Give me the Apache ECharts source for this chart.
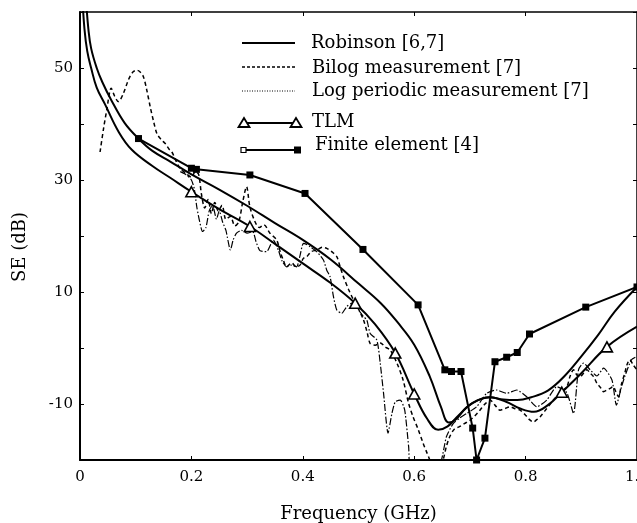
<!DOCTYPE html>
<html><head><meta charset="utf-8">
<script src="https://cdn.jsdelivr.net/npm/echarts/dist/echarts.min.js"></script>
<style>html,body{margin:0;padding:0;background:#fff}#c{width:637px;height:523px}</style>
</head><body><div id="c"></div><script>
// ---- data (frequency in GHz, SE in dB) ----
const xTickLabels = ['0', '0.2', '0.4', '0.6', '0.8', '1.0'];
const yTickLabels = [50, 30, 10, -10];
const legendNames = ['Robinson [6,7]', 'Bilog measurement [7]', 'Log periodic measurement [7]', 'TLM', 'Finite element [4]'];

const robinson = [[0.011,62],[0.015,57],[0.02,53.5],[0.03,50],[0.04,47.5],[0.056,44.3],[0.08,40.2],[0.105,37.4],[0.13,35.2],[0.162,33.3],[0.2,31],[0.25,28.3],[0.3,25.4],[0.35,22.3],[0.4,19.3],[0.45,15.8],[0.5,11.5],[0.54,8.0],[0.57,4.6],[0.6,0.6],[0.628,-5.1],[0.648,-10.5],[0.662,-13.3],[0.674,-12.8],[0.694,-10.6],[0.715,-9.3],[0.736,-8.8],[0.76,-9.2],[0.785,-9.3],[0.81,-8.8],[0.84,-7.6],[0.87,-5],[0.9,-1.5],[0.93,2.3],[0.96,6.5],[1.0,10.9]];

const tlm = [[0.004,63],[0.008,57],[0.013,53],[0.02,50],[0.03,46.5],[0.045,43.5],[0.07,38.5],[0.093,35.4],[0.13,32.5],[0.162,30.4],[0.2,27.9],[0.25,24.8],[0.305,21.7],[0.35,18.6],[0.4,15.1],[0.45,11.6],[0.494,8.0],[0.53,4.2],[0.566,-0.9],[0.6,-8.2],[0.623,-12.6],[0.643,-14.6],[0.66,-14],[0.68,-12],[0.705,-9.8],[0.735,-8.8],[0.765,-9.6],[0.79,-10.8],[0.815,-11.4],[0.84,-10.2],[0.865,-7.9],[0.9,-4.5],[0.946,0.2],[1.0,3.8]];

const tlmMarkers = [[0.2,27.9],[0.305,21.7],[0.494,8.0],[0.566,-0.9],[0.6,-8.2],[0.865,-7.9],[0.946,0.2]];

const finiteElement = [[0.105,37.4],[0.2,32.1],[0.209,31.9],[0.305,30.9],[0.404,27.6],[0.508,17.6],[0.607,7.7],[0.655,-3.9],[0.667,-4.2],[0.684,-4.2],[0.705,-14.3],[0.712,-20],[0.727,-16.1],[0.745,-2.45],[0.766,-1.65],[0.785,-0.8],[0.807,2.5],[0.908,7.3],[1.0,10.9]];

const bilog = [[0.036,35],[0.042,39],[0.048,42.5],[0.056,46.4],[0.062,45],[0.069,44],[0.078,45.5],[0.087,47.9],[0.095,49.3],[0.102,49.6],[0.108,49.3],[0.114,48.4],[0.12,46],[0.126,43.1],[0.132,40.5],[0.138,38.3],[0.145,37.3],[0.153,36.5],[0.16,35.5],[0.165,35],[0.172,33.5],[0.18,32],[0.19,31.2],[0.2,30.5],[0.207,31.5],[0.213,31],[0.218,27.5],[0.224,25],[0.23,26.5],[0.236,24],[0.242,26],[0.248,24.5],[0.255,25.5],[0.262,23],[0.27,23.5],[0.278,21.8],[0.285,22.5],[0.292,26],[0.299,28.8],[0.305,25.2],[0.314,22.6],[0.322,21.5],[0.33,22],[0.341,20.5],[0.353,19.3],[0.36,17],[0.365,15.7],[0.371,14.5],[0.38,15.2],[0.388,14.5],[0.395,14.8],[0.401,16],[0.407,16.3],[0.415,17.2],[0.425,17.5],[0.435,18],[0.443,17.8],[0.452,17.2],[0.461,16.3],[0.467,14.5],[0.473,12.7],[0.482,10.5],[0.491,8.6],[0.5,7],[0.509,5],[0.515,3],[0.521,0.8],[0.53,0.5],[0.539,0.9],[0.548,0.2],[0.557,-0.4],[0.569,-2.7],[0.58,-5.7],[0.59,-9.9],[0.598,-12.3],[0.607,-14.5],[0.616,-17],[0.622,-18.5],[0.628,-20],[0.635,-22],[0.645,-22],[0.652,-20],[0.658,-17.5],[0.664,-15.8],[0.672,-14.5],[0.682,-14],[0.69,-13.5],[0.7,-12.9],[0.71,-12],[0.718,-11.1],[0.727,-10],[0.736,-9.3],[0.745,-10.2],[0.754,-11.1],[0.763,-10.8],[0.772,-10.5],[0.78,-10.8],[0.79,-11.1],[0.8,-12],[0.807,-12.8],[0.814,-13.2],[0.82,-12.8],[0.826,-12.3],[0.838,-10.8],[0.85,-9.3],[0.862,-8],[0.874,-6.9],[0.88,-5],[0.886,-3.9],[0.892,-4.8],[0.898,-5.1],[0.904,-4.5],[0.91,-3.9],[0.916,-4.5],[0.922,-5.1],[0.928,-6.3],[0.934,-7],[0.94,-7.8],[0.946,-7.5],[0.952,-7.2],[0.957,-6.9],[0.962,-7.8],[0.967,-8.7],[0.972,-6.5],[0.978,-4.5],[0.982,-3],[0.987,-2.1],[0.993,-3],[1.0,-3.9]];

const logPeriodic = [[0.18,31.5],[0.19,31],[0.2,30],[0.205,28.5],[0.21,25],[0.215,22.5],[0.22,20.8],[0.226,21.5],[0.232,24.5],[0.238,25.5],[0.245,23],[0.25,24.5],[0.256,22.5],[0.262,21],[0.27,17.5],[0.275,19.3],[0.281,20.5],[0.29,21],[0.3,20.5],[0.31,20.8],[0.316,19],[0.323,17.4],[0.335,17.2],[0.347,19.3],[0.356,17.5],[0.363,15.5],[0.371,14.5],[0.38,14.8],[0.389,14.5],[0.395,16.5],[0.401,18.7],[0.407,18.5],[0.413,18.1],[0.425,17.2],[0.437,15.7],[0.443,13.9],[0.449,12.7],[0.455,9.2],[0.461,6.8],[0.47,6.2],[0.479,7.4],[0.488,8.0],[0.497,7.2],[0.509,5.6],[0.515,5],[0.521,2.6],[0.533,1.4],[0.539,-2.7],[0.545,-8.1],[0.553,-15.2],[0.56,-11.7],[0.566,-9.6],[0.575,-9.3],[0.583,-11.1],[0.59,-17.6],[0.595,-22],[0.64,-22],[0.649,-20],[0.658,-15.8],[0.67,-13.5],[0.682,-12.5],[0.694,-11.7],[0.712,-10.5],[0.73,-8.1],[0.748,-7.5],[0.766,-8.1],[0.784,-7.5],[0.802,-8.7],[0.82,-10.5],[0.838,-9.3],[0.856,-6.9],[0.874,-8],[0.886,-11.7],[0.895,-3.9],[0.904,-2.7],[0.916,-3.9],[0.928,-5],[0.94,-3.6],[0.955,-5.7],[0.963,-10.2],[0.972,-7],[0.978,-5.1],[0.99,-2.1],[1.0,-1.5]];

// ---- chart ----
const FONT = '"DejaVu Serif", "Liberation Serif", serif';
const chart = echarts.init(document.getElementById('c'), null, {renderer: 'canvas'});

const legendY = [43, 67, 91, 123, 150];
const legendTextY = [43, 68, 91, 122, 145];
const graphic = [];
graphic.push({type:'line', shape:{x1:242,y1:legendY[0],x2:295,y2:legendY[0]}, style:{stroke:'#000', lineWidth:2}});
graphic.push({type:'line', shape:{x1:242,y1:legendY[1],x2:295,y2:legendY[1]}, style:{stroke:'#000', lineWidth:1.5, lineDash:[3,2]}});
graphic.push({type:'line', shape:{x1:242,y1:legendY[2],x2:295,y2:legendY[2]}, style:{stroke:'#000', lineWidth:1, lineDash:[1,1.5]}});
graphic.push({type:'line', shape:{x1:244,y1:legendY[3],x2:296,y2:legendY[3]}, style:{stroke:'#000', lineWidth:2}});
graphic.push({type:'polygon', shape:{points:[[244,legendY[3]-5],[238.5,legendY[3]+4],[249.5,legendY[3]+4]]}, style:{fill:'#fff', stroke:'#000', lineWidth:1.8}});
graphic.push({type:'polygon', shape:{points:[[296,legendY[3]-5],[290.5,legendY[3]+4],[301.5,legendY[3]+4]]}, style:{fill:'#fff', stroke:'#000', lineWidth:1.8}});
graphic.push({type:'line', shape:{x1:244,y1:legendY[4],x2:297,y2:legendY[4]}, style:{stroke:'#000', lineWidth:2}});
graphic.push({type:'rect', shape:{x:241,y:legendY[4]-2.5,width:5,height:5}, style:{fill:'#fff', stroke:'#000', lineWidth:1.2}});
graphic.push({type:'rect', shape:{x:294,y:legendY[4]-3.5,width:7,height:7}, style:{fill:'#000'}});
const legendTextX = [311, 312, 312, 312, 315];
legendNames.forEach((n, i) => {
  graphic.push({type:'text', x: legendTextX[i], y: legendTextY[i], style:{text:n, font:'18px ' + FONT, fill:'#000', verticalAlign:'middle', align:'left'}});
});

function axisBase(width) {
  return {
    type: 'value',
    axisLine: {show: true, onZero: false, lineStyle: {color: '#000', width: width}},
    axisTick: {show: true, inside: true, length: 4, lineStyle: {color: '#000', width: 1}},
    splitLine: {show: false}
  };
}

chart.setOption({
  backgroundColor: '#fff',
  animation: false,
  grid: {left: 80, right: 0, top: 12, bottom: 63, containLabel: false, outerBoundsMode: 'none'},
  xAxis: [
    Object.assign(axisBase(2), {
      min: 0, max: 1, interval: 0.2, position: 'bottom',
      name: 'Frequency (GHz)', nameLocation: 'middle', nameGap: 45,
      nameTextStyle: {fontFamily: FONT, fontSize: 18, color: '#000'},
      axisLabel: {fontFamily: FONT, fontSize: 15, color: '#000', margin: 10,
        formatter: v => xTickLabels[Math.round(v / 0.2)]}
    }),
    Object.assign(axisBase(1.5), {
      min: 0, max: 1, interval: 0.2, position: 'top',
      axisLabel: {show: false}
    })
  ],
  yAxis: [
    Object.assign(axisBase(2), {
      min: -20, max: 60, interval: 10, position: 'left',
      name: 'SE (dB)', nameLocation: 'middle', nameGap: 51,
      nameTextStyle: {fontFamily: FONT, fontSize: 18, color: '#000', padding: [0, 22, 0, 0]},
      axisLabel: {fontFamily: FONT, fontSize: 15, color: '#000', margin: 7,
        formatter: v => yTickLabels.indexOf(v) >= 0 ? String(v) : ''}
    }),
    Object.assign(axisBase(1.5), {
      min: -20, max: 60, interval: 10, position: 'right',
      axisLabel: {show: false}
    })
  ],
  graphic: graphic,
  series: [
    {name: legendNames[0], type: 'line', data: robinson, smooth: 0.4, showSymbol: false,
     lineStyle: {color: '#000', width: 2}, z: 3},
    {name: legendNames[1], type: 'line', data: bilog, smooth: 0.3, showSymbol: false,
     lineStyle: {color: '#000', width: 1.5, type: [4, 3]}, z: 2},
    {name: legendNames[2], type: 'line', data: logPeriodic, smooth: 0.2, showSymbol: false,
     lineStyle: {color: '#000', width: 1.2, type: [7, 2, 1.5, 2]}, z: 2},
    {name: legendNames[3], type: 'line', data: tlm, smooth: 0.4, showSymbol: false,
     lineStyle: {color: '#000', width: 2}, z: 3},
    {name: legendNames[3] + ' points', type: 'scatter', data: tlmMarkers, symbol: 'triangle', symbolSize: [11, 10],
     itemStyle: {color: '#fff', borderColor: '#000', borderWidth: 1.6, opacity: 1}, z: 5},
    {name: legendNames[4], type: 'line', data: finiteElement, showSymbol: true, symbol: 'rect', symbolSize: 7,
     itemStyle: {color: '#000'}, lineStyle: {color: '#000', width: 2}, z: 4}
  ]
});
</script></body></html>
